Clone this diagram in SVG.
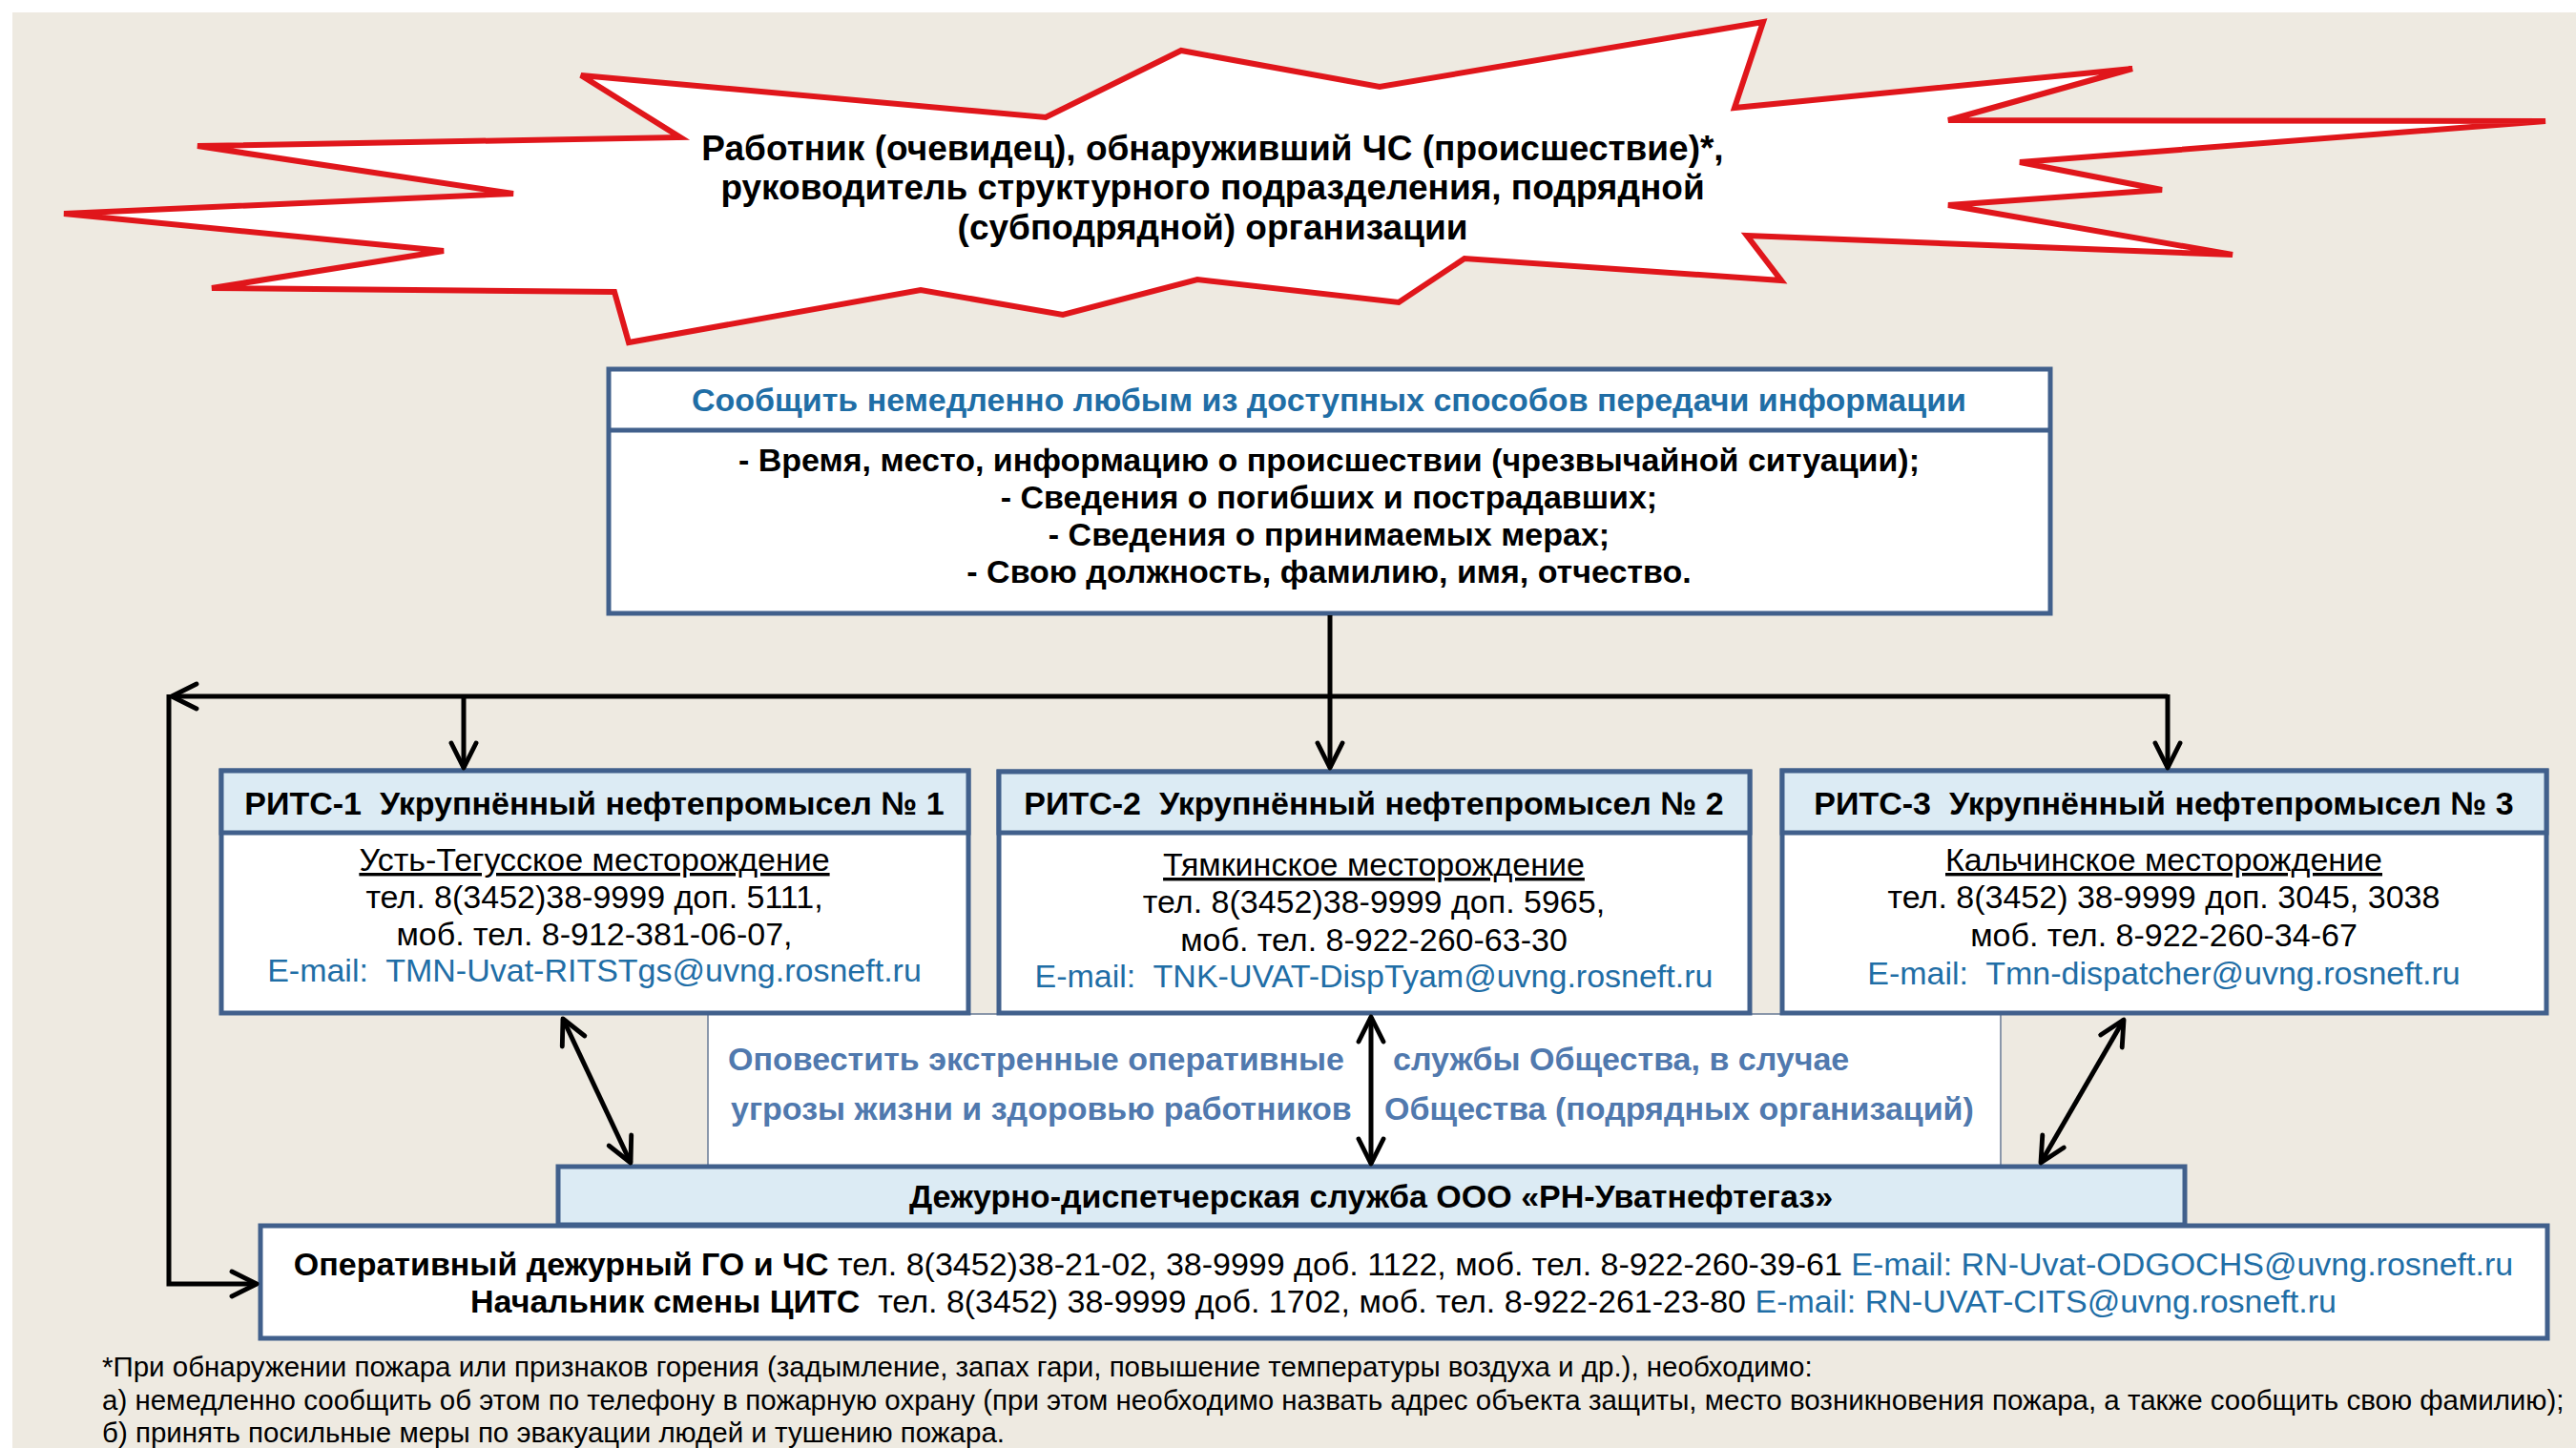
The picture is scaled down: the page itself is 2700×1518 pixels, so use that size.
<svg xmlns="http://www.w3.org/2000/svg" width="2700" height="1518" viewBox="0 0 2700 1518">
<style>
text{font-family:"Liberation Sans",Arial,sans-serif;white-space:pre}
.b{font-weight:bold}
.c{text-anchor:middle}
.box{fill:#ffffff;stroke:#41608C;stroke-width:5}
.hdr{fill:#DCEBF4;stroke:#41608C;stroke-width:5}
.blue{fill:#1F6EA6}
.steel{fill:#5079AE}
.con{fill:none;stroke:#000000;stroke-width:5}
.u{text-decoration:underline}
</style>
<defs>
<marker id="ah" viewBox="0 0 20 20" refX="18" refY="10" markerWidth="6.5" markerHeight="6.5" orient="auto-start-reverse" markerUnits="strokeWidth">
<path d="M2,2 L18,10 L2,18" fill="none" stroke="#000000" stroke-width="3" stroke-linecap="round" stroke-linejoin="round"/>
</marker>
</defs>
<rect x="0" y="0" width="2700" height="1518" fill="#ffffff"/>
<rect x="13" y="13" width="2687" height="1505" fill="#EEEAE1"/>

<g id="burst">
<polygon points="609,79 1096,123 1238,53 1446,91 1848,23 1818,113 2235,72 2042,126 2668,127 2117,170 2266,199 2042,215 2340,267 1831,247 1867,294 1535,271 1466,317 1255,293 1114,330 965,304 659,359 644,306 222,302 465,263 67,224 538,203 207,153 713,144" fill="#ffffff" stroke="#E0161B" stroke-width="6" stroke-linejoin="miter"/>
<text class="b c" x="1271" y="168" font-size="37">Работник (очевидец), обнаруживший ЧС (происшествие)*,</text>
<text class="b c" x="1271" y="209" font-size="37">руководитель структурного подразделения, подрядной</text>
<text class="b c" x="1271" y="251" font-size="37">(субподрядной) организации</text>
</g>

<g id="info">
<rect class="box" x="638" y="387" width="1511" height="256"/>
<line x1="638" y1="451" x2="2149" y2="451" stroke="#41608C" stroke-width="5"/>
<text class="b c blue" x="1393" y="431" font-size="34">Сообщить немедленно любым из доступных способов передачи информации</text>
<text class="b c" x="1393" y="494" font-size="34">- Время, место, информацию о происшествии (чрезвычайной ситуации);</text>
<text class="b c" x="1393" y="533" font-size="34">- Сведения о погибших и пострадавших;</text>
<text class="b c" x="1393" y="572" font-size="34">- Сведения о принимаемых мерах;</text>
<text class="b c" x="1393" y="611" font-size="34">- Свою должность, фамилию, имя, отчество.</text>
</g>

<g id="notify">
<rect x="742" y="1063" width="1355" height="160" fill="#ffffff" stroke="#8A97AA" stroke-width="2"/>
<text class="b steel" x="763" y="1122" font-size="34">Оповестить экстренные оперативные</text>
<text class="b steel" x="1460" y="1122" font-size="34">службы Общества, в случае</text>
<text class="b steel" x="766" y="1174" font-size="34">угрозы жизни и здоровью работников</text>
<text class="b steel" x="1451" y="1174" font-size="34">Общества (подрядных организаций)</text>
</g>

<g id="rits1">
<rect class="box" x="232" y="808" width="783" height="254"/>
<rect class="hdr" x="232" y="808" width="783" height="65"/>
<text class="b c" x="623" y="854" font-size="34">РИТС-1  Укрупнённый нефтепромысел № 1</text>
<text class="c u" x="623" y="913" font-size="34">Усть-Тегусское месторождение</text>
<text class="c" x="623" y="952" font-size="34">тел. 8(3452)38-9999 доп. 5111,</text>
<text class="c" x="623" y="991" font-size="34">моб. тел. 8-912-381-06-07,</text>
<text class="c blue" x="623" y="1029" font-size="34">E-mail:  TMN-Uvat-RITSTgs@uvng.rosneft.ru</text>
</g>

<g id="rits2">
<rect class="box" x="1047" y="809" width="787" height="253"/>
<rect class="hdr" x="1047" y="809" width="787" height="64"/>
<text class="b c" x="1440" y="854" font-size="34">РИТС-2  Укрупнённый нефтепромысел № 2</text>
<text class="c u" x="1440" y="918" font-size="34">Тямкинское месторождение</text>
<text class="c" x="1440" y="957" font-size="34">тел. 8(3452)38-9999 доп. 5965,</text>
<text class="c" x="1440" y="997" font-size="34">моб. тел. 8-922-260-63-30</text>
<text class="c blue" x="1440" y="1035" font-size="34">E-mail:  TNK-UVAT-DispTyam@uvng.rosneft.ru</text>
</g>

<g id="rits3">
<rect class="box" x="1868" y="808" width="801" height="254"/>
<rect class="hdr" x="1868" y="808" width="801" height="65"/>
<text class="b c" x="2268" y="854" font-size="34">РИТС-3  Укрупнённый нефтепромысел № 3</text>
<text class="c u" x="2268" y="913" font-size="34">Кальчинское месторождение</text>
<text class="c" x="2268" y="952" font-size="34">тел. 8(3452) 38-9999 доп. 3045, 3038</text>
<text class="c" x="2268" y="992" font-size="34">моб. тел. 8-922-260-34-67</text>
<text class="c blue" x="2268" y="1032" font-size="34">E-mail:  Tmn-dispatcher@uvng.rosneft.ru</text>
</g>

<g id="dds">
<rect class="hdr" x="585" y="1223" width="1705" height="61"/>
<text class="b c" x="1437" y="1266" font-size="34">Дежурно-диспетчерская служба ООО «РН-Уватнефтегаз»</text>
</g>

<g id="duty">
<rect class="box" x="273" y="1285" width="2397" height="118"/>
<text class="c" x="1471" y="1337" font-size="34"><tspan class="b">Оперативный дежурный ГО и ЧС</tspan> тел. 8(3452)38-21-02, 38-9999 доб. 1122, моб. тел. 8-922-260-39-61 <tspan class="blue">E-mail: RN-Uvat-ODGOCHS@uvng.rosneft.ru</tspan></text>
<text class="c" x="1471" y="1376" font-size="34"><tspan class="b">Начальник смены ЦИТС</tspan>  тел. 8(3452) 38-9999 доб. 1702, моб. тел. 8-922-261-23-80 <tspan class="blue">E-mail: RN-UVAT-CITS@uvng.rosneft.ru</tspan></text>
</g>

<g id="note">
<text x="107" y="1443" font-size="29.5">*При обнаружении пожара или признаков горения (задымление, запах гари, повышение температуры воздуха и др.), необходимо:</text>
<text x="107" y="1478" font-size="29.5">а) немедленно сообщить об этом по телефону в пожарную охрану (при этом необходимо назвать адрес объекта защиты, место возникновения пожара, а также сообщить свою фамилию);</text>
<text x="107" y="1512" font-size="29.5">б) принять посильные меры по эвакуации людей и тушению пожара.</text>
</g>

<g id="connectors">
<path class="con" d="M1394,645 V805" marker-end="url(#ah)"/>
<path class="con" d="M2272,730 H180" marker-end="url(#ah)"/>
<path class="con" d="M177,728 V1346 H269" marker-end="url(#ah)"/>
<path class="con" d="M486,730 V805" marker-end="url(#ah)"/>
<path class="con" d="M2272,728 V805" marker-end="url(#ah)"/>
<path class="con" d="M590,1068 L661,1219" marker-start="url(#ah)" marker-end="url(#ah)"/>
<path class="con" d="M1437,1066 V1220" marker-start="url(#ah)" marker-end="url(#ah)"/>
<path class="con" d="M2226,1069 L2139,1219" marker-start="url(#ah)" marker-end="url(#ah)"/>
</g>
</svg>
